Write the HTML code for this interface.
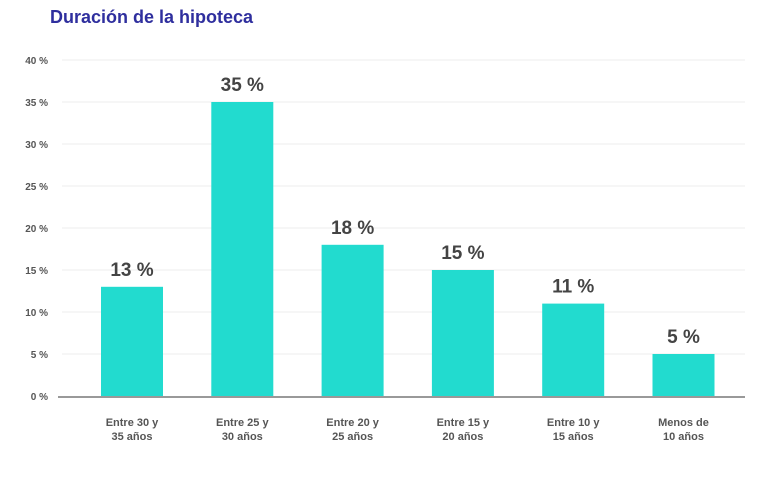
<!DOCTYPE html>
<html><head><meta charset="utf-8"><style>
body{margin:0;background:#fff;}
svg{display:block;font-family:"Liberation Sans",sans-serif;}
</style></head><body>
<svg id="chart" width="779" height="484">
<text x="50" y="23" font-size="18" font-weight="bold" fill="#2f2f9e">Duración de la hipoteca</text>
<g id="grid"></g><g id="bars"></g><g id="labels"></g>
</svg>
<script>
const categories=[["Entre 30 y","35 años"],["Entre 25 y","30 años"],["Entre 20 y","25 años"],["Entre 15 y","20 años"],["Entre 10 y","15 años"],["Menos de","10 años"]];
const values=[13,35,18,15,11,5];
const valueLabels=["13 %","35 %","18 %","15 %","11 %","5 %"];
const ticks=[0,5,10,15,20,25,30,35,40];
const tickLabels=["0 %","5 %","10 %","15 %","20 %","25 %","30 %","35 %","40 %"];
const NS="http://www.w3.org/2000/svg";
const y=v=>396-v*8.4;
const xc=i=>132+i*110.3;
const bw=62;
function mk(tag,attrs,parent,txt){const e=document.createElementNS(NS,tag);for(const k in attrs)e.setAttribute(k,attrs[k]);if(txt!==undefined)e.textContent=txt;document.getElementById(parent).appendChild(e);return e;}
ticks.forEach((t,i)=>{
  if(t>0){const l=mk('line',{x1:62,x2:745,y1:y(t),y2:y(t),stroke:'#eeeeee','stroke-width':1},'grid');
  
  }
  const tx=mk('text',{x:48,y:y(t)+4,'text-anchor':'end','font-size':10,'font-weight':'bold',fill:'#555'},'grid',tickLabels[i]);
  
  
});
values.forEach((v,i)=>{
  const r=mk('rect',{x:xc(i)-bw/2,y:y(v),width:bw,height:396-y(v),fill:'#22dbcf'},'bars');
  
  
  const vl=mk('text',{x:xc(i),y:y(v)-11,'text-anchor':'middle','font-size':19,'font-weight':'bold',fill:'#444'},'labels',valueLabels[i]);
  
  
  categories[i].forEach((s,j)=>{
    const c=mk('text',{x:xc(i),y:426+j*14,'text-anchor':'middle','font-size':11,'font-weight':'bold',fill:'#555'},'labels',s);
    
    
  });
});
const ax=mk('line',{x1:58,x2:745,y1:397,y2:397,stroke:'#999','stroke-width':2},'labels');


</script>
</body></html>
